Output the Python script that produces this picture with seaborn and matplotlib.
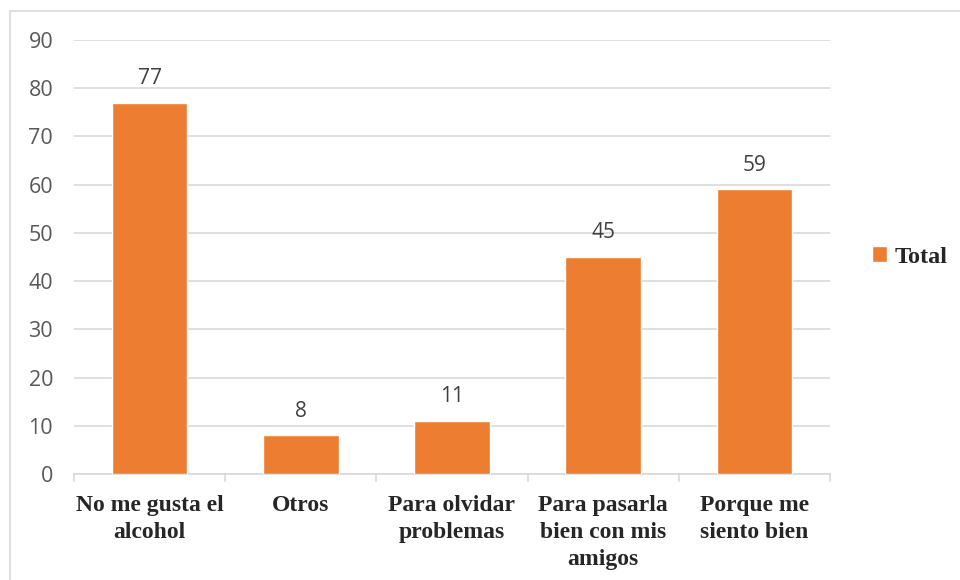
import pandas as pd
import seaborn as sns
import matplotlib.pyplot as plt
from matplotlib.lines import Line2D
from matplotlib.patches import Patch

# Datos del gráfico
categorias = ['No me gusta el\nalcohol', 'Otros', 'Para olvidar\nproblemas',
              'Para pasarla\nbien con mis\namigos', 'Porque me\nsiento bien']
valores = [77, 8, 11, 45, 59]
serie = 'Total'

df = pd.DataFrame({'categoria': categorias, 'valor': valores})

naranja = '#ED7D31'
gris_grid = '#D9D9D9'
gris_texto = '#595959'

sns.set_style('white')
plt.rcParams['font.family'] = ['Open Sans', 'DejaVu Sans']

fig = plt.figure(figsize=(9.6, 5.8), dpi=100, facecolor='white')
ax = fig.add_axes([74 / 960, 1 - 474 / 580, (830 - 74) / 960, (474 - 40) / 580])

sns.barplot(data=df, x='categoria', y='valor', color=naranja, width=0.5,
            saturation=1, ax=ax, zorder=3)

# Etiquetas de valor sobre las barras
for c in ax.containers:
    ax.bar_label(c, labels=[str(v) for v in valores], padding=10,
                 fontsize=15, color='#404040')

ax.set_ylim(0, 90)
ax.set_yticks(range(0, 91, 10))
ax.set_xlim(-0.5, len(categorias) - 0.5)
ax.yaxis.grid(True, color=gris_grid, linewidth=1.2, zorder=0)
ax.set_xlabel('')
ax.set_ylabel('')

for s in ['top', 'right', 'left']:
    ax.spines[s].set_visible(False)
ax.spines['bottom'].set_color(gris_grid)
ax.spines['bottom'].set_linewidth(1.2)

ax.tick_params(axis='y', length=0, labelsize=15.5, labelcolor=gris_texto, pad=15)
ax.tick_params(axis='x', length=0, pad=15)
for lbl in ax.get_xticklabels():
    lbl.set_fontfamily('Liberation Serif')
    lbl.set_fontweight('bold')
    lbl.set_fontsize(17)
    lbl.set_verticalalignment('top')
    lbl.set_linespacing(1.37)

# Marcas separadoras entre categorías
for i in range(len(categorias) + 1):
    ax.plot([i - 0.5, i - 0.5], [0, -1.4], color=gris_grid, linewidth=1.2,
            clip_on=False, zorder=2)

# Leyenda
ax.legend(handles=[Patch(facecolor=naranja, label=serie)], loc='center left',
          bbox_to_anchor=(1.027, 0.5), frameon=False, handlelength=0.6,
          handleheight=0.6, handletextpad=0.3,
          prop={'family': 'Liberation Serif', 'weight': 'bold', 'size': 17.5})

# Borde del área del gráfico
fig.add_artist(Line2D([10 / 960, 10 / 960], [0, 1 - 11 / 580],
                      transform=fig.transFigure, color=gris_grid, linewidth=1.2))
fig.add_artist(Line2D([10 / 960, 1], [1 - 11 / 580, 1 - 11 / 580],
                      transform=fig.transFigure, color=gris_grid, linewidth=1.2))

fig.savefig('out.png', dpi=100, facecolor='white')
plt.close()
